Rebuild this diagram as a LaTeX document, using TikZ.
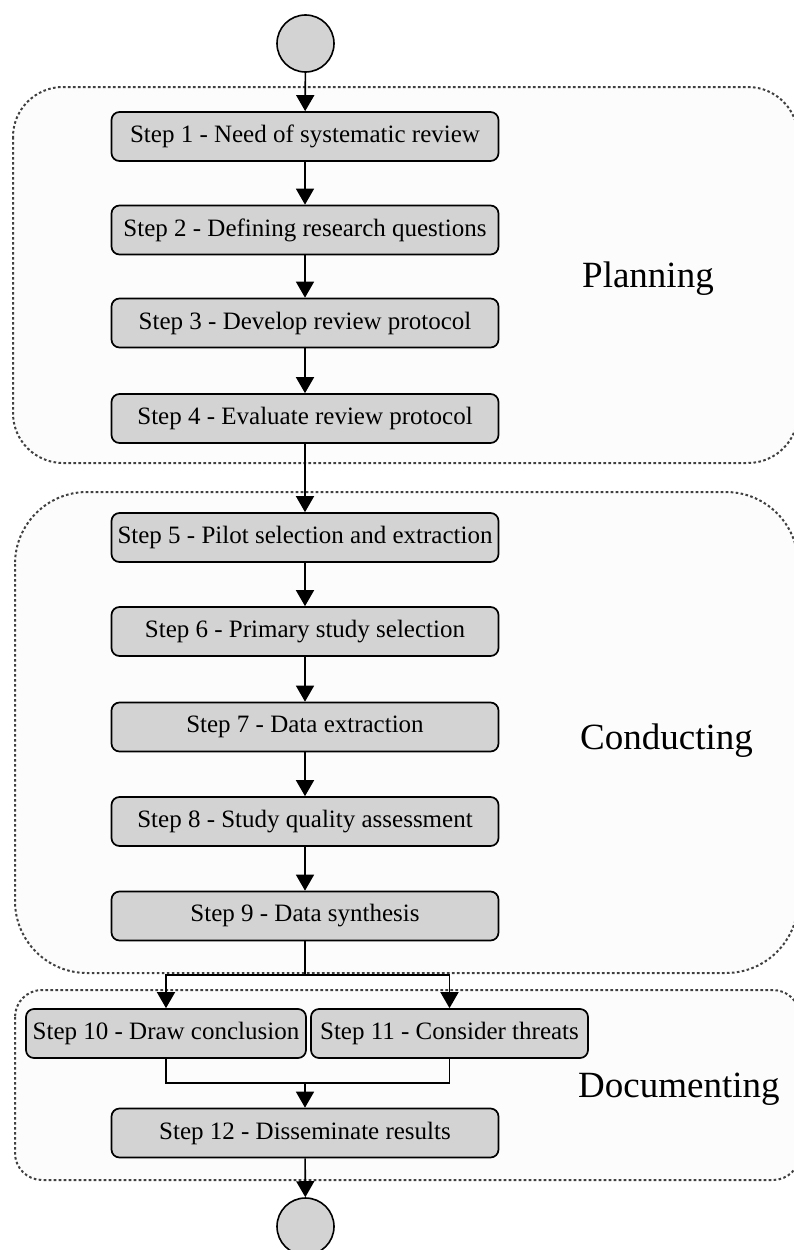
\documentclass[tikz,border=0pt]{standalone}
\usepackage{fontspec}
\setmainfont{Liberation Serif}
\usetikzlibrary{arrows.meta,positioning}
\tikzset{
  stepbox/.style={draw=black, line width=1.7pt, fill=boxgray, rounded corners=8pt,
    minimum width=387pt, minimum height=49pt, inner sep=0pt,
    font=\fontsize{25}{30}\selectfont},
  phase/.style={draw=black!75, line width=2pt, dash pattern=on 2.6pt off 2.4pt, fill=phasefill},
  phaselabel/.style={anchor=base west, inner sep=0pt, font=\fontsize{37}{44}\selectfont},
  flow/.style={line width=1.6pt, -{Triangle[width=18pt,length=16pt]}},
  plain/.style={line width=1.6pt},
  term/.style={circle, draw=black, line width=1.6pt, fill=boxgray, minimum size=57pt, inner sep=0pt}
}
\definecolor{boxgray}{HTML}{D3D3D3}
\definecolor{phasefill}{HTML}{FCFCFC}
\begin{document}
\begin{tikzpicture}[x=1pt,y=-1pt]
\useasboundingbox (0,0) rectangle (794,1250);
% phase containers
\draw[phase, rounded corners=50pt] (13,87) rectangle (798,463);
\node[inner sep=0pt, minimum width=785pt, minimum height=376pt] (planbox) at (405.5,275) {};
\draw[phase, rounded corners=72pt] (15,492) rectangle (798,973);
\node[inner sep=0pt, minimum width=783pt, minimum height=481pt] (condbox) at (406.5,732.5) {};
\draw[phase, rounded corners=27pt] (15,990) rectangle (800,1180);
\node[inner sep=0pt, minimum width=785pt, minimum height=190pt] (docbox) at (407.5,1085) {};

\node[phaselabel] (lplan) at (582,287) {Planning};
\node[phaselabel] (lcond) at (580,749) {Conducting};
\node[phaselabel] (ldoc) at (578,1097) {Documenting};

% terminals
\node[term] (start) at (305.5,43.5) {};
\node[term] (stop) at (305.5,1226.5) {};

% steps
\node[stepbox] (s1) at (305,136.5) {Step 1 - Need of systematic review};
\node[stepbox] (s2) at (305,230) {Step 2 - Defining research questions};
\node[stepbox] (s3) at (305,323) {Step 3 - Develop review protocol};
\node[stepbox] (s4) at (305,418.5) {Step 4 - Evaluate review protocol};
\node[stepbox] (s5) at (305,537.5) {Step 5 - Pilot selection and extraction};
\node[stepbox] (s6) at (305,631.5) {Step 6 - Primary study selection};
\node[stepbox] (s7) at (305,727) {Step 7 - Data extraction};
\node[stepbox] (s8) at (305,821.5) {Step 8 - Study quality assessment};
\node[stepbox] (s9) at (305,916) {Step 9 - Data synthesis};
\node[stepbox, minimum width=280pt] (s10) at (166,1033.5) {Step 10 - Draw conclusion};
\node[stepbox, minimum width=277pt] (s11) at (449.5,1033.5) {Step 11 - Consider threats};
\node[stepbox] (s12) at (305,1133) {Step 12 - Disseminate results};

\coordinate (split) at (305,975);
\coordinate (merge) at (305,1083);

% connectors
\draw[flow] (start) -- (s1);
\draw[flow] (s1) -- (s2);
\draw[flow] (s2) -- (s3);
\draw[flow] (s3) -- (s4);
\draw[flow] (s4) -- (s5);
\draw[flow] (s5) -- (s6);
\draw[flow] (s6) -- (s7);
\draw[flow] (s7) -- (s8);
\draw[flow] (s8) -- (s9);
\draw[plain] (s9.south) -- (split);
\draw[flow] (split) -| (s10.north);
\draw[flow] (split) -| (s11.north);
\draw[plain] (s10.south) |- (merge);
\draw[plain] (s11.south) |- (merge);
\draw[flow] (merge) -- (s12.north);
\draw[flow] (s12) -- (stop);
\end{tikzpicture}
\end{document}
